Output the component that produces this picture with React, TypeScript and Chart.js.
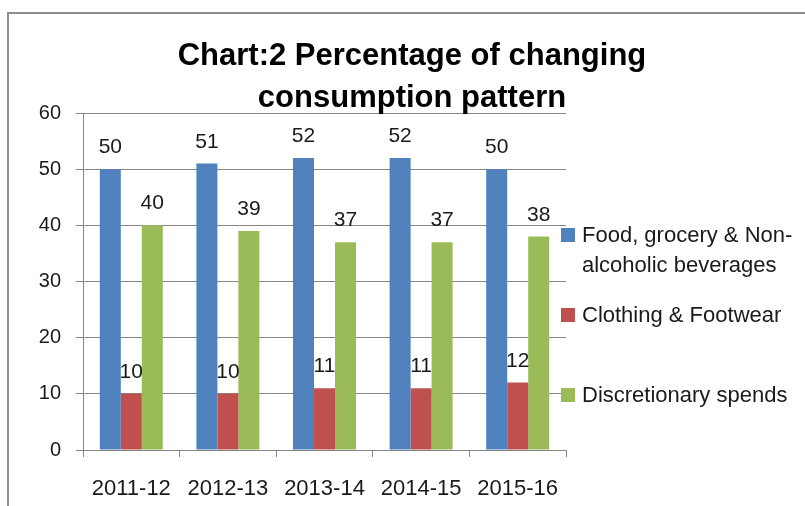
import React, { useEffect, useRef } from "react";
import { Chart, registerables } from "chart.js";

Chart.register(...registerables);

const categories = ["2011-12", "2012-13", "2013-14", "2014-15", "2015-16"];
const seriesNames = [
  "Food, grocery & Non-alcoholic beverages",
  "Clothing & Footwear",
  "Discretionary spends",
];
const foodValues = [50, 51, 52, 52, 50];
const clothingValues = [10, 10, 11, 11, 12];
const discretionaryValues = [40, 39, 37, 37, 38];
const seriesColors = ["#4F81BD", "#C0504D", "#9BBB59"];
const titleLines = ["Chart:2 Percentage of changing", "consumption pattern"];
const yMin = 0;
const yMax = 60;
const yStep = 10;

const FONT = '"Liberation Sans", Arial, sans-serif';
const TEXT = "#1a1a1a";
const GRID = "#868686";

function wrapText(ctx: CanvasRenderingContext2D, text: string, maxW: number): string[] {
  const pieces = text.split(/(?<=[\s-])/);
  const lines: string[] = [];
  let cur = "";
  for (const p of pieces) {
    if (cur && ctx.measureText((cur + p).trimEnd()).width > maxW) {
      lines.push(cur.trimEnd());
      cur = p;
    } else {
      cur += p;
    }
  }
  if (cur) lines.push(cur.trimEnd());
  return lines;
}

const decorPlugin = {
  id: "decor",
  beforeDraw(chart: any) {
    const ctx = chart.ctx as CanvasRenderingContext2D;
    ctx.save();
    ctx.fillStyle = "#ffffff";
    ctx.fillRect(0, 0, chart.width, chart.height);
    ctx.strokeStyle = "#8c8c8c";
    ctx.lineWidth = 2;
    ctx.strokeRect(8, 13, chart.width + 40, chart.height + 40);
    ctx.restore();
  },
  afterDatasetsDraw(chart: any) {
    const ctx = chart.ctx as CanvasRenderingContext2D;
    ctx.save();
    ctx.font = `21px ${FONT}`;
    ctx.fillStyle = TEXT;
    ctx.textAlign = "center";
    ctx.textBaseline = "alphabetic";
    chart.data.datasets.forEach((ds: any, i: number) => {
      const meta = chart.getDatasetMeta(i);
      meta.data.forEach((el: any, j: number) => {
        ctx.fillText(String(ds.data[j]), el.x, el.y - 16);
      });
    });
    ctx.restore();
  },
  afterDraw(chart: any) {
    const ctx = chart.ctx as CanvasRenderingContext2D;
    ctx.save();
    // title
    ctx.font = `bold 31px ${FONT}`;
    ctx.fillStyle = "#000";
    ctx.textAlign = "center";
    ctx.textBaseline = "alphabetic";
    titleLines.forEach((line, i) => {
      ctx.fillText(line, 412, 65 + i * 42);
    });
    // legend
    ctx.font = `22px ${FONT}`;
    ctx.textAlign = "left";
    const legendX = 561;
    let baseline = 242;
    chart.data.datasets.forEach((ds: any, i: number) => {
      ctx.fillStyle = ds.backgroundColor;
      ctx.fillRect(legendX, baseline - 14, 14, 14);
      ctx.fillStyle = TEXT;
      const lines = wrapText(ctx, ds.label, 220);
      lines.forEach((l, k) => ctx.fillText(l, legendX + 21, baseline + k * 30));
      baseline += 80;
    });
    ctx.restore();
  },
};

export default function App() {
  const ref = useRef<HTMLCanvasElement | null>(null);
  useEffect(() => {
    if (!ref.current) return;
    const values = [foodValues, clothingValues, discretionaryValues];
    const chart = new Chart(ref.current, {
      type: "bar",
      data: {
        labels: categories,
        datasets: seriesNames.map((name, i) => ({
          label: name,
          data: values[i],
          backgroundColor: seriesColors[i],
          borderWidth: 0,
          categoryPercentage: 0.652,
          barPercentage: 1,
        })),
      },
      options: {
        responsive: false,
        animation: false,
        devicePixelRatio: 1,
        layout: { padding: { left: 33, top: 113, right: 239, bottom: 0 } },
        plugins: {
          legend: { display: false },
          title: { display: false },
          tooltip: { enabled: false },
        },
        scales: {
          x: {
            afterFit: (s: any) => {
              s.height = 56;
            },
            grid: {
              display: true,
              drawOnChartArea: false,
              drawTicks: true,
              tickLength: 7,
              color: GRID,
              offset: true,
            },
            border: { display: true, color: GRID, width: 1 },
            ticks: {
              font: { family: FONT, size: 22 },
              color: TEXT,
              padding: 19,
              maxRotation: 0,
            },
          },
          y: {
            min: yMin,
            max: yMax,
            afterFit: (s: any) => {
              s.width = 50;
            },
            grid: {
              color: GRID,
              tickLength: 7,
              drawTicks: true,
            },
            border: { display: true, color: GRID, width: 1 },
            ticks: {
              stepSize: yStep,
              font: { family: FONT, size: 20 },
              color: TEXT,
              padding: 15,
            },
          },
        },
      },
      plugins: [decorPlugin],
    });
    return () => chart.destroy();
  }, []);
  return (
    <div style={{ position: "fixed", left: 0, top: 0, width: 805, height: 506, background: "#fff" }}>
      <canvas ref={ref} width={805} height={506} style={{ display: "block" }} />
    </div>
  );
}
